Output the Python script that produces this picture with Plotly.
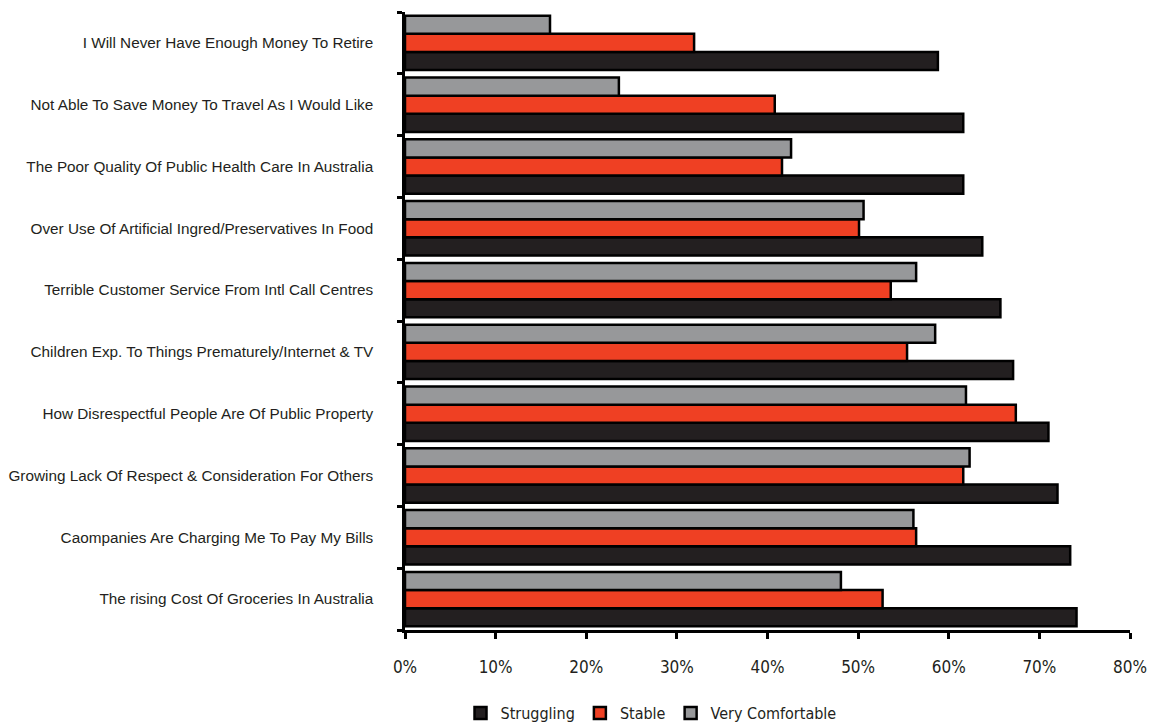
import plotly.graph_objects as go

categories = [
    "I Will Never Have Enough Money To Retire",
    "Not Able To Save Money To Travel As I Would Like",
    "The Poor Quality Of Public Health Care In Australia",
    "Over Use Of Artificial Ingred/Preservatives In Food",
    "Terrible Customer Service From Intl Call Centres",
    "Children Exp. To Things Prematurely/Internet & TV",
    "How Disrespectful People Are Of Public Property",
    "Growing Lack Of Respect & Consideration For Others",
    "Caompanies Are Charging Me To Pay My Bills",
    "The rising Cost Of Groceries In Australia",
]
struggling = [58.8, 61.6, 61.6, 63.7, 65.7, 67.1, 71.0, 72.0, 73.4, 74.1]
stable = [31.9, 40.8, 41.6, 50.1, 53.6, 55.4, 67.4, 61.6, 56.4, 52.7]
very_comfortable = [16.0, 23.6, 42.6, 50.6, 56.4, 58.5, 61.9, 62.3, 56.1, 48.1]
x_ticks = [0, 10, 20, 30, 40, 50, 60, 70, 80]
x_tick_labels = ["0%", "10%", "20%", "30%", "40%", "50%", "60%", "70%", "80%"]

series = [
    ("Struggling", struggling, "#231F20"),
    ("Stable", stable, "#EF4023"),
    ("Very Comfortable", very_comfortable, "#97989A"),
]

fig = go.Figure()
for name, vals, color in series:
    fig.add_trace(go.Bar(
        name=name, y=categories, x=vals, orientation="h",
        marker=dict(color=color, line=dict(color="#000000", width=2.5)),
    ))

fig.update_layout(
    width=1151, height=724,
    margin=dict(l=405, r=21, t=12, b=94),
    paper_bgcolor="white", plot_bgcolor="white",
    barmode="group", bargap=0.12, bargroupgap=0,
    font=dict(family="Liberation Sans", size=14, color="#231F20"),
    showlegend=True,
    legend=dict(orientation="h", xref="container", yref="container",
                x=0.5656, xanchor="center", y=0.0152, yanchor="middle",
                font=dict(family="Liberation Sans Narrow, DejaVu Sans Condensed", size=16, color="#231F20"),
                itemwidth=30, tracegroupgap=0),
)
fig.update_xaxes(
    range=[0, 80], tickvals=x_ticks, ticktext=x_tick_labels,
    showgrid=False, zeroline=False, automargin=False,
    showline=True, linecolor="#000000", linewidth=3,
    ticks="outside", ticklen=6, tickwidth=2.5, tickcolor="#000000",
    ticklabelstandoff=14,
    tickfont=dict(family="Liberation Sans Narrow, DejaVu Sans Condensed", size=17, color="#231F20"),
)
fig.update_yaxes(
    categoryorder="array", categoryarray=categories[::-1],
    showgrid=False, zeroline=False, automargin=False,
    showline=True, linecolor="#000000", linewidth=2.5,
    ticks="outside", ticklen=5, tickwidth=2.5, tickcolor="#000000",
    tickson="boundaries", ticklabelstandoff=26,
    tickfont=dict(family="Liberation Sans", size=15.3, color="#231F20"),
)

fig.write_html(
    "out.html",
    config={"displayModeBar": False},
    post_script="document.body.style.margin='0';document.body.style.overflow='hidden';",
)
